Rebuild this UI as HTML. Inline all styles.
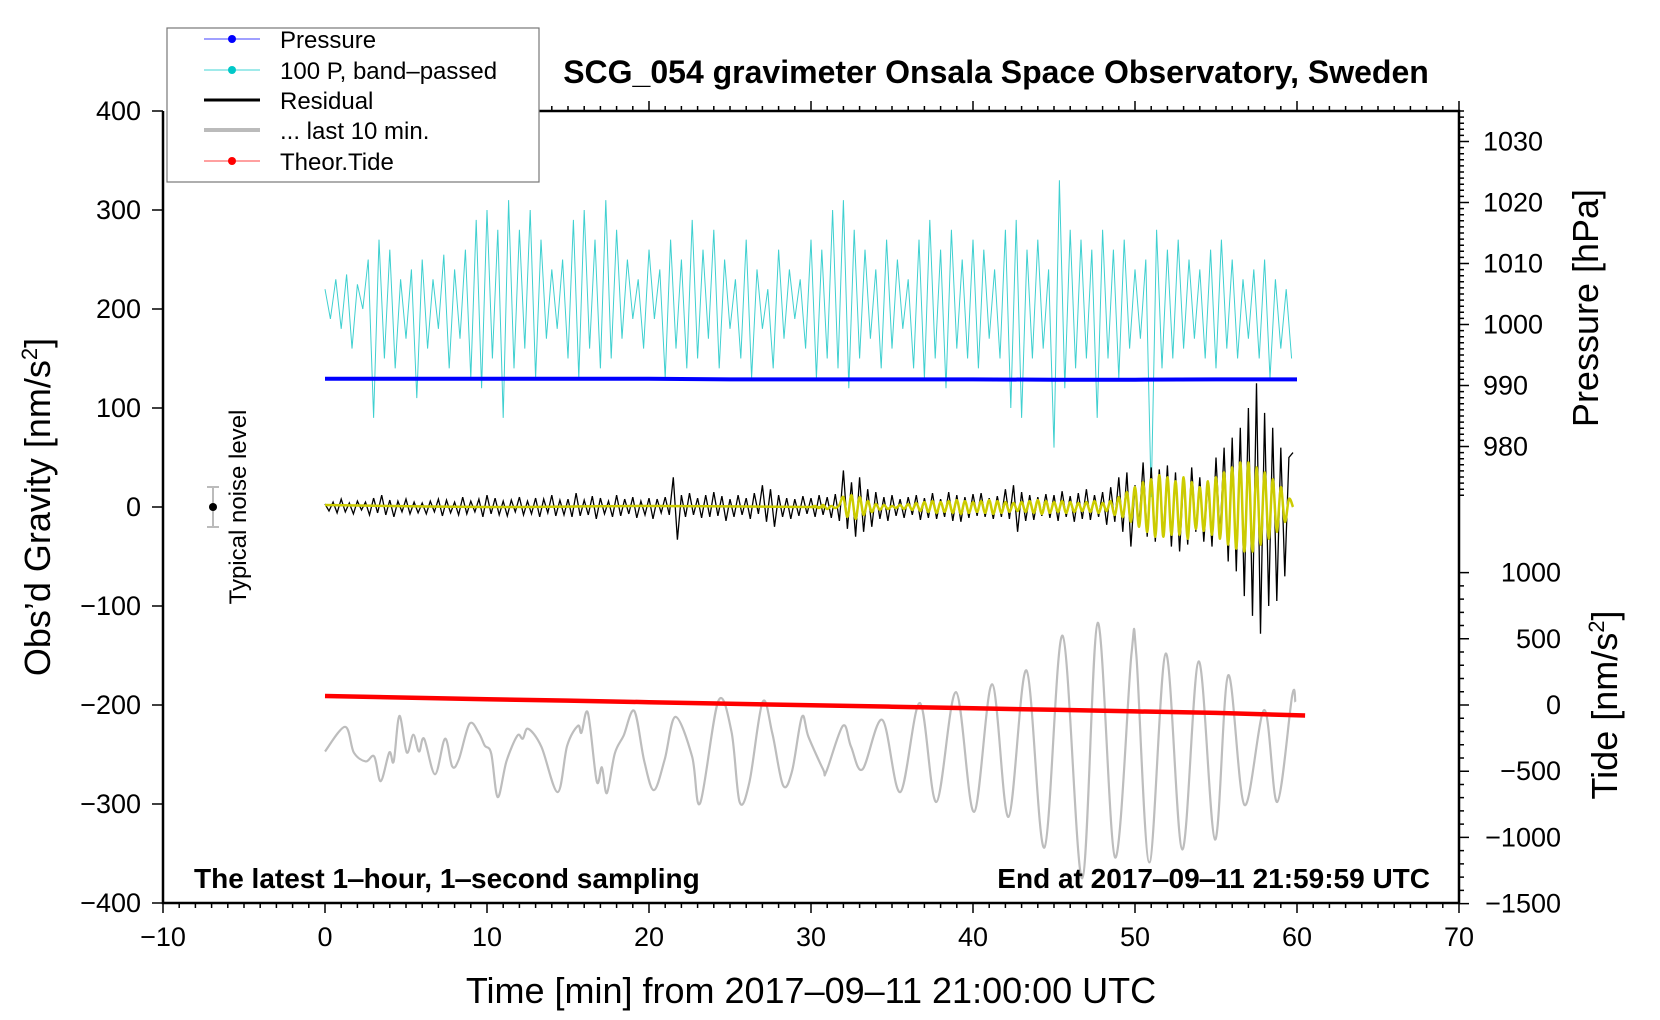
<!DOCTYPE html>
<html><head><meta charset="utf-8"><style>
html,body{margin:0;padding:0;background:#fff;}
svg{display:block;font-family:"Liberation Sans",sans-serif;}
</style></head><body>
<svg id="chart" width="1660" height="1020" viewBox="0 0 1660 1020" xmlns="http://www.w3.org/2000/svg">
<rect x="0" y="0" width="1660" height="1020" fill="#fff"/>
<g id="marks"></g>
<g id="axes"></g>
<text x="996" y="83" font-size="32" font-weight="bold" text-anchor="middle">SCG_054 gravimeter Onsala Space Observatory, Sweden</text>
<text x="194" y="888" font-size="28" font-weight="bold">The latest 1‒hour, 1‒second sampling</text>
<text x="1430" y="888" font-size="28" font-weight="bold" text-anchor="end">End at 2017‒09‒11 21:59:59 UTC</text>
<text x="811" y="1003" font-size="36" text-anchor="middle">Time [min] from 2017‒09‒11 21:00:00 UTC</text>
<text transform="translate(50,507) rotate(-90)" font-size="36" text-anchor="middle">Obs’d Gravity [nm/s<tspan font-size="22" dy="-13">2</tspan><tspan dy="13">]</tspan></text>
<text transform="translate(1598,308) rotate(-90)" font-size="36" text-anchor="middle">Pressure [hPa]</text>
<text transform="translate(1617,705) rotate(-90)" font-size="36" text-anchor="middle">Tide [nm/s<tspan font-size="22" dy="-13">2</tspan><tspan dy="13">]</tspan></text>
<g>
<line x1="213" y1="487" x2="213" y2="527" stroke="#bbb" stroke-width="2"/>
<line x1="207" y1="487" x2="219" y2="487" stroke="#bbb" stroke-width="2"/>
<line x1="207" y1="527" x2="219" y2="527" stroke="#bbb" stroke-width="2"/>
<circle cx="213" cy="507" r="4" fill="#000"/>
<text transform="translate(246,507) rotate(-90)" font-size="24" text-anchor="middle">Typical noise level</text>
</g>
<g>
<rect x="167" y="28" width="372" height="154" fill="#fff" stroke="#777" stroke-width="1.2"/>
<g><line x1="204" y1="39" x2="260" y2="39" stroke="#00f" stroke-width="0.8"/><circle cx="232" cy="39" r="4" fill="#00f"/><text x="280" y="48" font-size="24">Pressure</text></g>
<g><line x1="204" y1="70" x2="260" y2="70" stroke="#00c8c8" stroke-width="0.8"/><circle cx="232" cy="70" r="4" fill="#00c8c8"/><text x="280" y="79" font-size="24">100 P, band‒passed</text></g>
<g><line x1="204" y1="100" x2="260" y2="100" stroke="#000" stroke-width="3"/><text x="280" y="109" font-size="24">Residual</text></g>
<g><line x1="204" y1="130" x2="260" y2="130" stroke="#bbb" stroke-width="4"/><text x="280" y="139" font-size="24">... last 10 min.</text></g>
<g><line x1="204" y1="161" x2="260" y2="161" stroke="#f00" stroke-width="0.8"/><circle cx="232" cy="161" r="4" fill="#f00"/><text x="280" y="170" font-size="24">Theor.Tide</text></g>
</g>
</svg>
<script>
// ---- data ----
var xTicks=[-10,0,10,20,30,40,50,60,70];
var yTicks=[400,300,200,100,0,-100,-200,-300,-400];
var yTickLabels=["400","300","200","100","0","−100","−200","−300","−400"];
var pTicks=[1030,1020,1010,1000,990,980];
var tideTicks=[1000,500,0,-500,-1000,-1500];
var tideTickLabels=["1000","500","0","−500","−1000","−1500"];
var pressureT=[0,5,10,15,20,25,30,35,40,45,50,55,60];
var pressureV=[991.1,991.1,991.1,991.1,991.1,991.0,991.0,991.0,991.0,990.95,990.95,991.0,991.0];
var tideT=[0,5,10,15,20,25,30,35,40,45,50,55,60.5];
var tideV=[68,56,44,33,21,10,-2,-13,-25,-36,-48,-60,-79];
var cyanDt=1/3;
var cyanV=[220,190,230,180,235,160,225,200,250,
90,270,150,260,140,230,170,240,110,
250,160,230,180,255,140,240,170,260,
130,290,120,300,150,280,90,310,140,
280,160,300,130,270,170,240,180,250,
150,290,130,300,160,270,140,310,150,
280,170,250,190,230,160,260,190,240,
130,270,160,250,140,290,150,260,170,
280,140,250,180,230,150,270,130,240,
180,220,140,260,170,240,190,230,160,
270,130,260,150,300,140,310,120,280,
150,260,170,240,140,270,160,250,180,
230,140,270,130,290,150,260,120,280,
160,250,150,270,140,260,170,240,150,
280,100,290,90,260,150,270,160,240,
60,330,120,280,140,270,150,260,90,
280,150,260,130,270,160,240,170,250,
10,280,140,260,150,270,160,250,170,
240,150,260,140,270,160,250,150,230,
170,240,150,250,130,230,160,220,150];
var resDt=0.25;
var resV=[3,-4,5,-6,8,-5,4,-7,6,-3,5,-8,
9,-6,12,-8,7,-10,6,-5,8,-7,5,-6,
4,-7,6,-5,8,-9,7,-6,5,-8,10,-7,
6,-5,8,-10,12,-7,9,-8,6,-9,7,-5,
10,-8,6,-7,9,-10,8,-6,12,-9,7,-8,
8,-10,14,-9,7,-8,11,-12,9,-7,6,-10,
12,-9,8,-7,10,-11,6,-8,9,-12,8,-6,
10,-8,30,-33,12,-10,14,-8,9,-11,12,-10,
15,-9,11,-14,8,-10,12,-8,9,-12,14,-7,
22,-15,18,-20,12,-10,9,-12,8,-9,11,-7,
9,-10,12,-8,10,-11,13,-14,37,-22,25,-30,
30,-25,18,-20,15,-12,10,-14,12,-9,8,-11,
10,-8,12,-13,9,-11,14,-12,8,-10,15,-14,
12,-15,10,-11,13,-9,14,-10,9,-12,11,-10,
18,-12,22,-25,15,-14,12,-13,10,-9,13,-11,
12,-14,16,-10,11,-15,14,-12,18,-13,12,-10,
15,-18,20,-15,30,-25,35,-40,22,-18,45,-30,
40,-35,38,-30,42,-40,35,-45,30,-38,40,-25,
30,-35,25,-40,50,-30,60,-55,70,-65,80,-90,
100,-110,125,-128,95,-100,80,-95,60,-70,50,55];
var yellowEarlyT=[0,10,20,30];
var yellowEarlyV=[2,0,1,0];
var yellowT0=30, yellowDt=0.25;
var yellowV=[0,1,-1,2,-2,1,-1,2,10,-10,12,-12,
10,-8,6,-5,3,-3,2,-2,1,-1,2,-2,
3,-3,4,-4,5,-5,6,-6,5,-5,6,-6,
7,-7,6,-6,5,-5,6,-6,7,-7,6,-6,
5,-5,4,-4,5,-5,6,-6,7,-7,6,-6,
5,-5,6,-6,5,-5,4,-4,5,-5,6,-6,
4,-4,6,-8,10,-10,15,-15,20,-20,25,-25,
28,-30,32,-30,30,-28,26,-28,30,-32,25,-22,
20,-24,26,-28,30,-32,35,-38,40,-42,45,-45,
45,-45,40,-38,35,-32,28,-25,20,-15,8,0];
var grayT=[0,1.24,1.78,2.51,3.04,3.44,3.97,4.24,4.59,5.05,5.45,5.8,6.12,6.79,7.41,7.85,8.26,8.92,9.49,9.86,10.26,10.66,11.2,11.87,12.21,12.54,13.35,14.36,14.95,15.61,15.83,16.23,16.77,17.09,17.4,17.89,18.43,19.09,19.71,20.3,20.97,21.63,22.66,23.16,24.28,25.09,25.59,26.2,27.01,27.62,28.27,28.83,29.44,29.84,30.75,30.95,31.97,32.47,33.18,34.4,35.51,36.72,37.74,38.95,40.06,41.18,42.19,43.3,44.41,45.53,46.74,47.7,48.77,49.78,50.08,50.89,51.9,52.92,53.93,54.94,55.75,56.76,57.98,58.78,59.7,59.9];
var grayV=[-247,-222,-248,-257,-252,-277,-248,-257,-211,-248,-230,-247,-234,-270,-234,-262,-255,-219,-228,-241,-249,-293,-257,-231,-234,-224,-242,-288,-241,-221,-228,-208,-277,-263,-289,-249,-231,-206,-257,-286,-255,-212,-252,-299,-196,-227,-298,-278,-197,-229,-281,-267,-212,-232,-265,-267,-221,-242,-265,-215,-288,-198,-298,-187,-308,-179,-313,-165,-344,-130,-375,-117,-354,-149,-149,-359,-148,-346,-156,-336,-170,-301,-205,-298,-191,-197];

// ---- scales ----
var L=163,R=1459,T=111,B=903;
function xS(t){return L+(t+10)/80*(R-L);}
function yS(v){return B-(v+400)/800*(B-T);}
function pS(p){return 141.5+(1030-p)*6.1;}
function tideS(v){return 705-v*0.1324;}
var NS="http://www.w3.org/2000/svg";
var marks=document.getElementById('marks'), axes=document.getElementById('axes');
function mk(tag,attrs,parent){var e=document.createElementNS(NS,tag);for(var k in attrs)e.setAttribute(k,attrs[k]);parent.appendChild(e);return e;}
function poly(xs,ys){var d='';for(var i=0;i<xs.length;i++)d+=(i?'L':'M')+xs[i].toFixed(1)+','+ys[i].toFixed(1);return d;}
function smooth(xs,ys){var d='M'+xs[0].toFixed(1)+','+ys[0].toFixed(1);for(var i=0;i<xs.length-1;i++){var x0=xs[Math.max(i-1,0)],y0=ys[Math.max(i-1,0)],x1=xs[i],y1=ys[i],x2=xs[i+1],y2=ys[i+1],x3=xs[Math.min(i+2,xs.length-1)],y3=ys[Math.min(i+2,xs.length-1)];var c1x=x1+(x2-x0)/6,c1y=y1+(y2-y0)/6,c2x=x2-(x3-x1)/6,c2y=y2-(y3-y1)/6;d+='C'+c1x.toFixed(1)+','+c1y.toFixed(1)+' '+c2x.toFixed(1)+','+c2y.toFixed(1)+' '+x2.toFixed(1)+','+y2.toFixed(1);}return d;}

var gx=grayT.map(xS), gy=grayV.map(yS);
var g=mk('path',{d:smooth(gx,gy),fill:'none',stroke:'#bdbdbd','stroke-width':2.2},marks);


var cx=cyanV.map(function(v,i){return xS(i*cyanDt);}), cy=cyanV.map(yS);
var c=mk('path',{d:poly(cx,cy),fill:'none',stroke:'#3fd0d0','stroke-width':1},marks);


var p=mk('path',{d:poly(pressureT.map(xS),pressureV.map(pS)),fill:'none',stroke:'#0000ff','stroke-width':4},marks);


var rx=resV.map(function(v,i){return xS(i*resDt);}), ry=resV.map(yS);
var r=mk('path',{d:poly(rx,ry),fill:'none',stroke:'#000','stroke-width':1.3},marks);


var yx=yellowEarlyT.map(xS).concat(yellowV.map(function(v,i){return xS(yellowT0+i*yellowDt);}));
var yy=yellowEarlyV.map(yS).concat(yellowV.map(yS));
var yl=mk('path',{d:smooth(yx,yy),fill:'none',stroke:'#cccc00','stroke-width':2.5},marks);


var td=mk('path',{d:poly(tideT.map(xS),tideV.map(tideS)),fill:'none',stroke:'#ff0000','stroke-width':4.5},marks);



// ---- axes ----
var frame=mk('path',{d:'M'+L+','+T+'L'+L+','+B+'L'+R+','+B+'L'+R+','+T+'L539,'+T,fill:'none',stroke:'#000','stroke-width':2.5},axes);


var td2='';
for(var m=-10;m<=70;m++){var X=xS(m),len=(m%10===0)?10:5;td2+='M'+X+','+B+'L'+X+','+(B+len);if(X>539)td2+='M'+X+','+T+'L'+X+','+(T-len);}
for(var i=0;i<yTicks.length;i++){var Y=yS(yTicks[i]);td2+='M'+L+','+Y+'L'+(L-11)+','+Y;}
for(var q=1035;q>=972;q--){var Y2=pS(q);td2+='M'+R+','+Y2+'L'+(R+((q%10===0)?10:5))+','+Y2;}
for(var s=1000;s>=-1500;s-=100){var Y3=tideS(s);td2+='M'+R+','+Y3+'L'+(R+((s%500===0)?10:5))+','+Y3;}
var tk=mk('path',{d:td2,fill:'none',stroke:'#000','stroke-width':1.5},axes);


xTicks.forEach(function(t){var e=mk('text',{x:xS(t),y:946,'font-size':27,'text-anchor':'middle'},axes);e.textContent=(t<0?'−':'')+Math.abs(t);

});
yTicks.forEach(function(v,i){var e=mk('text',{x:141,y:yS(v)+9,'font-size':27,'text-anchor':'end'},axes);e.textContent=yTickLabels[i];

});
pTicks.forEach(function(v){var e=mk('text',{x:1483,y:pS(v)+9,'font-size':27,'text-anchor':'start'},axes);e.textContent=String(v);

});
tideTicks.forEach(function(v,i){var e=mk('text',{x:1561,y:tideS(v)+9,'font-size':27,'text-anchor':'end'},axes);e.textContent=tideTickLabels[i];

});
</script>
</body></html>
